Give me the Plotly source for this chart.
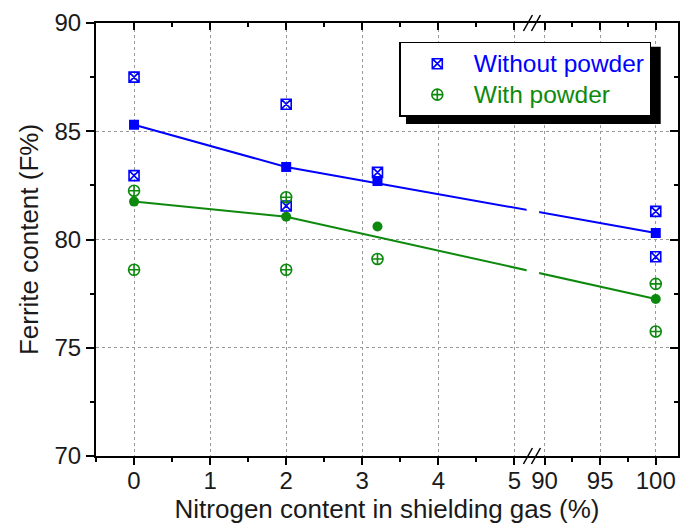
import plotly.graph_objects as go

# ---------------- data ----------------
meas_x = [0, 0, 2, 2, 3.2, 100, 100]
without_y = [87.5, 82.95, 86.25, 81.55, 83.1, 81.3, 79.2]
with_y = [82.25, 78.6, 81.95, 78.6, 79.1, 77.95, 75.75]
mean_x = [0, 2, 3.2, 100]
without_mean = [85.3, 83.35, 82.7, 80.3]
with_mean = [81.75, 81.05, 80.6, 77.25]
fit_x = [0, 2, 100]
without_fit = [85.3, 83.35, 80.3]
with_fit = [81.75, 81.05, 77.25]
xtick_vals = [0, 1, 2, 3, 4, 5, 90, 95, 100]
xtick_text = ["0", "1", "2", "3", "4", "5", "90", "95", "100"]
xminor_vals = [-0.5, 0.5, 1.5, 2.5, 3.5, 4.5, 92.5, 97.5]
series_names = ["Without powder", "With powder"]

BLUE = "#0000ff"
GREEN = "#0d8a0d"
FONT = "Liberation Sans, Arial, sans-serif"

# ---------------- broken x axis ----------------
X_MIN = -0.5
LEFT_END = 5.25
RIGHT_START = 89.0
RIGHT_END = 102.0
T_MAX = 7.15
K = (T_MAX - LEFT_END) / (RIGHT_END - RIGHT_START)


def bx(v):
    return v if v <= LEFT_END else LEFT_END + (v - RIGHT_START) * K


def bxs(vals):
    return [bx(v) for v in vals]


def legend_name(color, text):
    return "<span style='color:%s;font-size:24.5px'>%s</span>" % (color, text)


fig = go.Figure()

# fitted lines
fig.add_trace(go.Scatter(x=bxs(fit_x), y=without_fit, mode="lines",
                         line=dict(color=BLUE, width=2), showlegend=False, hoverinfo="skip"))
fig.add_trace(go.Scatter(x=bxs(fit_x), y=with_fit, mode="lines",
                         line=dict(color=GREEN, width=2), showlegend=False, hoverinfo="skip"))

# means (filled)
fig.add_trace(go.Scatter(x=bxs(mean_x), y=without_mean, mode="markers",
                         marker=dict(symbol="square", size=10, color=BLUE), showlegend=False))
fig.add_trace(go.Scatter(x=bxs(mean_x), y=with_mean, mode="markers",
                         marker=dict(symbol="circle", size=10, color=GREEN), showlegend=False))

# individual measurements (open)
fig.add_trace(go.Scatter(x=bxs(meas_x), y=without_y, mode="markers",
                         name=legend_name(BLUE, series_names[0]),
                         marker=dict(symbol="square-x-open", size=10, color=BLUE,
                                     line=dict(width=1.6, color=BLUE))))
fig.add_trace(go.Scatter(x=bxs(meas_x), y=with_y, mode="markers",
                         name=legend_name(GREEN, series_names[1]),
                         marker=dict(symbol="circle-cross-open", size=11, color=GREEN,
                                     line=dict(width=1.6, color=GREEN))))

# invisible trace on mirror axes so they get drawn
fig.add_trace(go.Scatter(x=bxs(mean_x), y=without_mean, mode="markers", xaxis="x2", yaxis="y2",
                         marker=dict(opacity=0), showlegend=False, hoverinfo="skip"))

shapes = []
# gaps in the lines at the axis break
for y0, y1 in [(80.8, 81.85), (78.0, 79.05)]:
    shapes.append(dict(type="rect", xref="x", yref="y", x0=LEFT_END - 0.09, x1=LEFT_END + 0.075,
                       y0=y0, y1=y1, fillcolor="white", line=dict(width=0), layer="above"))
# break marks //
for ya in [0, 1]:
    for dx in [-9, -1]:
        shapes.append(dict(type="line", xref="x", yref="paper", xsizemode="pixel", ysizemode="pixel",
                           xanchor=LEFT_END, yanchor=ya, x0=dx - 1, x1=dx + 8, y0=-8, y1=8,
                           line=dict(color="black", width=1.5), layer="above"))
# legend shadow
shapes.append(dict(type="rect", xref="paper", yref="paper", x0=0.5326, x1=0.9703, y0=0.767, y1=0.9453,
                   fillcolor="black", line=dict(width=0), layer="above"))

axis_common = dict(showline=True, linecolor="black", linewidth=2, zeroline=False, mirror=False,
                   tickcolor="black", tickwidth=1.5)

fig.update_layout(
    width=680, height=524,
    margin=dict(l=96, r=2, t=23, b=68),
    paper_bgcolor="white", plot_bgcolor="white",
    font=dict(family=FONT, color="#1a1a1a"),
    showlegend=True,
    legend=dict(x=(399.3 - 96) / 582, y=(456 - 41.7) / 433, xanchor="left", yanchor="top",
                bgcolor="white", bordercolor="black", borderwidth=1.5, itemwidth=63,
                font=dict(size=21.5, family=FONT), tracegroupgap=0),
    xaxis=dict(range=[X_MIN, T_MAX], tickmode="array", tickvals=bxs(xtick_vals), ticktext=xtick_text,
               ticks="outside", ticklen=7, tickfont=dict(size=24), ticklabelstandoff=-5,
               showgrid=True, gridcolor="#9a9a9a", griddash="dot", gridwidth=1,
               minor=dict(tickmode="array", tickvals=bxs(xminor_vals), ticks="outside", ticklen=4,
                          tickcolor="black", tickwidth=1.5, showgrid=False),
               title=dict(text="Nitrogen content in shielding gas (%)", font=dict(size=26), standoff=0),
               **axis_common),
    xaxis2=dict(range=[X_MIN, T_MAX], overlaying="x", side="top", anchor="y2", tickmode="array",
                tickvals=bxs(xtick_vals), showticklabels=False, ticks="inside", ticklen=7,
                showgrid=False,
                minor=dict(tickmode="array", tickvals=bxs(xminor_vals), ticks="inside", ticklen=4,
                           tickcolor="black", tickwidth=1.5, showgrid=False),
                **axis_common),
    yaxis=dict(range=[70, 90], tickmode="linear", tick0=70, dtick=5, ticks="outside", ticklen=8,
               tickfont=dict(size=24),
               showgrid=True, gridcolor="#9a9a9a", griddash="dot", gridwidth=1,
               minor=dict(dtick=2.5, ticks="outside", ticklen=4, tickcolor="black", tickwidth=1.5,
                          showgrid=False),
               title=dict(text="Ferrite content (F%)", font=dict(size=26), standoff=8),
               **axis_common),
    yaxis2=dict(range=[70, 90], overlaying="y", side="right", anchor="x2", tickmode="linear", tick0=70,
                dtick=5, showticklabels=False, ticks="inside", ticklen=8, showgrid=False,
                minor=dict(dtick=2.5, ticks="inside", ticklen=4, tickcolor="black", tickwidth=1.5,
                           showgrid=False),
                **axis_common),
    shapes=shapes,
)

fig.write_html("out.html")
